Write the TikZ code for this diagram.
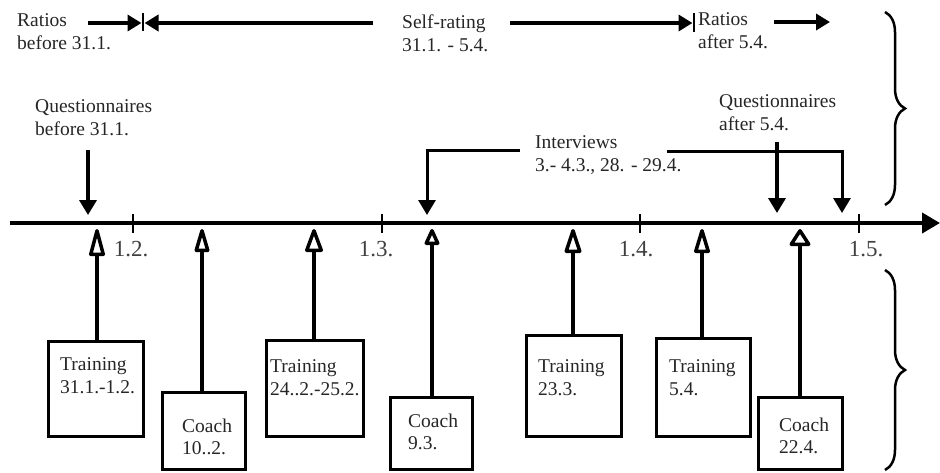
\documentclass[tikz,border=0pt]{standalone}
\usepackage{fontspec}
\setmainfont{Liberation Serif}
\usetikzlibrary{arrows.meta,decorations.pathreplacing}
\begin{document}
\begin{tikzpicture}[x=1pt,y=-1pt,
  lbl/.style={inner sep=0pt, anchor=north west, align=left,
    font=\fontsize{19.5}{22.5}\selectfont, text=black!85},
  ticklbl/.style={inner sep=0pt, anchor=base,
    font=\fontsize{23}{26}\selectfont, text=black!75},
  eventbox/.style={draw, line width=3pt, inner sep=0pt},
  axis/.style={line width=4pt, -{Triangle[length=18pt,width=20pt]}},
  tickmark/.style={line width=2.5pt},
  toparrow/.style={line width=4pt, -{Triangle[length=14pt,width=16pt]}},
  downarrow/.style={line width=3.5pt, -{Triangle[length=15pt,width=17pt]}},
  elbowarrow/.style={line width=3pt, -{Triangle[length=15pt,width=17pt]}},
  stem/.style={line width=3.5pt},
  opentip/.style={draw, fill=white, line width=3.5pt, line join=round},
  bracket/.style={line width=2.5pt, decorate, decoration={brace, amplitude=20pt}}
]
\useasboundingbox (0,0) rectangle (940,472);

% ---- time axis ----
\coordinate (tstart) at (10,223);
\coordinate (tend) at (940,223);
\draw[axis] (tstart) -- (tend);

\coordinate (k1) at (133,214);
\coordinate (k2) at (382,214);
\coordinate (k3) at (640,214);
\coordinate (k4) at (859,214);
\foreach \k in {k1,k2,k3,k4} \draw[tickmark] (\k) -- ++(0,19);

\node[ticklbl] (d1) at (131,256.7) {1.2.};
\node[ticklbl] (d2) at (376,256.7) {1.3.};
\node[ticklbl] (d3) at (636,256.5) {1.4.};
\node[ticklbl] (d4) at (866,256.7) {1.5.};

% ---- rating periods along the top ----
\node[lbl] (rb) at (17,13.4) {Ratios\\before 31.1.};
\node[lbl] (sr) at (402,14.7) {Self-rating\\31.1. - 5.4.};
\node[lbl] (ra) at (698,12.7) {Ratios\\after 5.4.};

\coordinate (bar1) at (143,13);
\coordinate (bar2) at (694,13);
\draw[tickmark] (bar1) -- ++(0,18);
\draw[tickmark] (bar2) -- ++(0,19);

\coordinate (rb1) at (88,23);
\coordinate (rb2) at (141.5,23);
\coordinate (sr1) at (373,23);
\coordinate (sr2) at (144.5,23);
\coordinate (sr3) at (510,23);
\coordinate (sr4) at (692.5,23);
\coordinate (ra1) at (774,22);
\coordinate (ra2) at (830,22);
\draw[toparrow] (rb1) -- (rb2);
\draw[toparrow] (sr1) -- (sr2);
\draw[toparrow] (sr3) -- (sr4);
\draw[toparrow] (ra1) -- (ra2);

% ---- questionnaires and interviews ----
\node[lbl] (qb) at (35,99.7) {Questionnaires\\before 31.1.};
\node[lbl] (qa) at (719,94.7) {Questionnaires\\after 5.4.};
\node[lbl] (iv) at (535,135.7) {Interviews\\3.- 4.3., 28. - 29.4.};

\coordinate (qb1) at (88,150);
\coordinate (qb2) at (88,215);
\coordinate (qa1) at (777,142);
\coordinate (qa2) at (777,213);
\coordinate (iv1) at (520,150);
\coordinate (iv2) at (427,215);
\coordinate (iv3) at (667,151.5);
\coordinate (iv4) at (842,213);
\draw[downarrow] (qb1) -- (qb2);
\draw[downarrow] (qa1) -- (qa2);
\draw[elbowarrow] (iv1) -| (iv2);
\draw[elbowarrow] (iv3) -| (iv4);

% ---- trainings and coaching sessions ----
\node[eventbox, minimum width=95pt, minimum height=95pt]  (b1) at (95.5,388.5) {};
\node[eventbox, minimum width=83pt, minimum height=77pt]  (b2) at (203.5,430.5) {};
\node[eventbox, minimum width=97pt, minimum height=96pt]  (b3) at (314.5,388) {};
\node[eventbox, minimum width=82pt, minimum height=72pt]  (b4) at (431,433) {};
\node[eventbox, minimum width=95pt, minimum height=101pt] (b5) at (573.5,385.5) {};
\node[eventbox, minimum width=94pt, minimum height=98pt]  (b6) at (703,387) {};
\node[eventbox, minimum width=84pt, minimum height=72pt]  (b7) at (800,433) {};

\node[lbl] (t1) at (60,357.4)  {Training\\31.1.-1.2.};
\node[lbl] (t2) at (182,418.4) {Coach\\10..2.};
\node[lbl] (t3) at (270,359.7) {Training\\24..2.-25.2.};
\node[lbl] (t4) at (408,413.4) {Coach\\9.3.};
\node[lbl] (t5) at (538,359.7) {Training\\23.3.};
\node[lbl] (t6) at (669,359.7) {Training\\5.4.};
\node[lbl] (t7) at (779,417.4) {Coach\\22.4.};

% stems from each box up to an open triangle touching the axis
% (index / x / outer length / outer width of the triangle)
\foreach \i/\x/\L/\W in {1/97/27/16, 2/202/23/15, 3/314/23/18, 4/432/16/15,
                         5/573/24/17, 6/702/24/16, 7/800/17/21} {
  \coordinate (p\i) at (\x,230.75);
  \coordinate (a\i) at (\x,{229+\L-1.75});
  \draw[stem] (a\i |- b\i.north) -- (a\i);
  \draw[opentip] (p\i) -- ++({-(\W/2-1.75)},{\L-3.5}) -- ++({\W-3.5},0) -- cycle;
}

% ---- grouping braces ----
\coordinate (g1) at (885,12);
\coordinate (g2) at (885,205);
\coordinate (g3) at (885,270);
\coordinate (g4) at (885,470);
\draw[bracket] (g1) -- (g2);
\draw[bracket] (g3) -- (g4);
\end{tikzpicture}
\end{document}
